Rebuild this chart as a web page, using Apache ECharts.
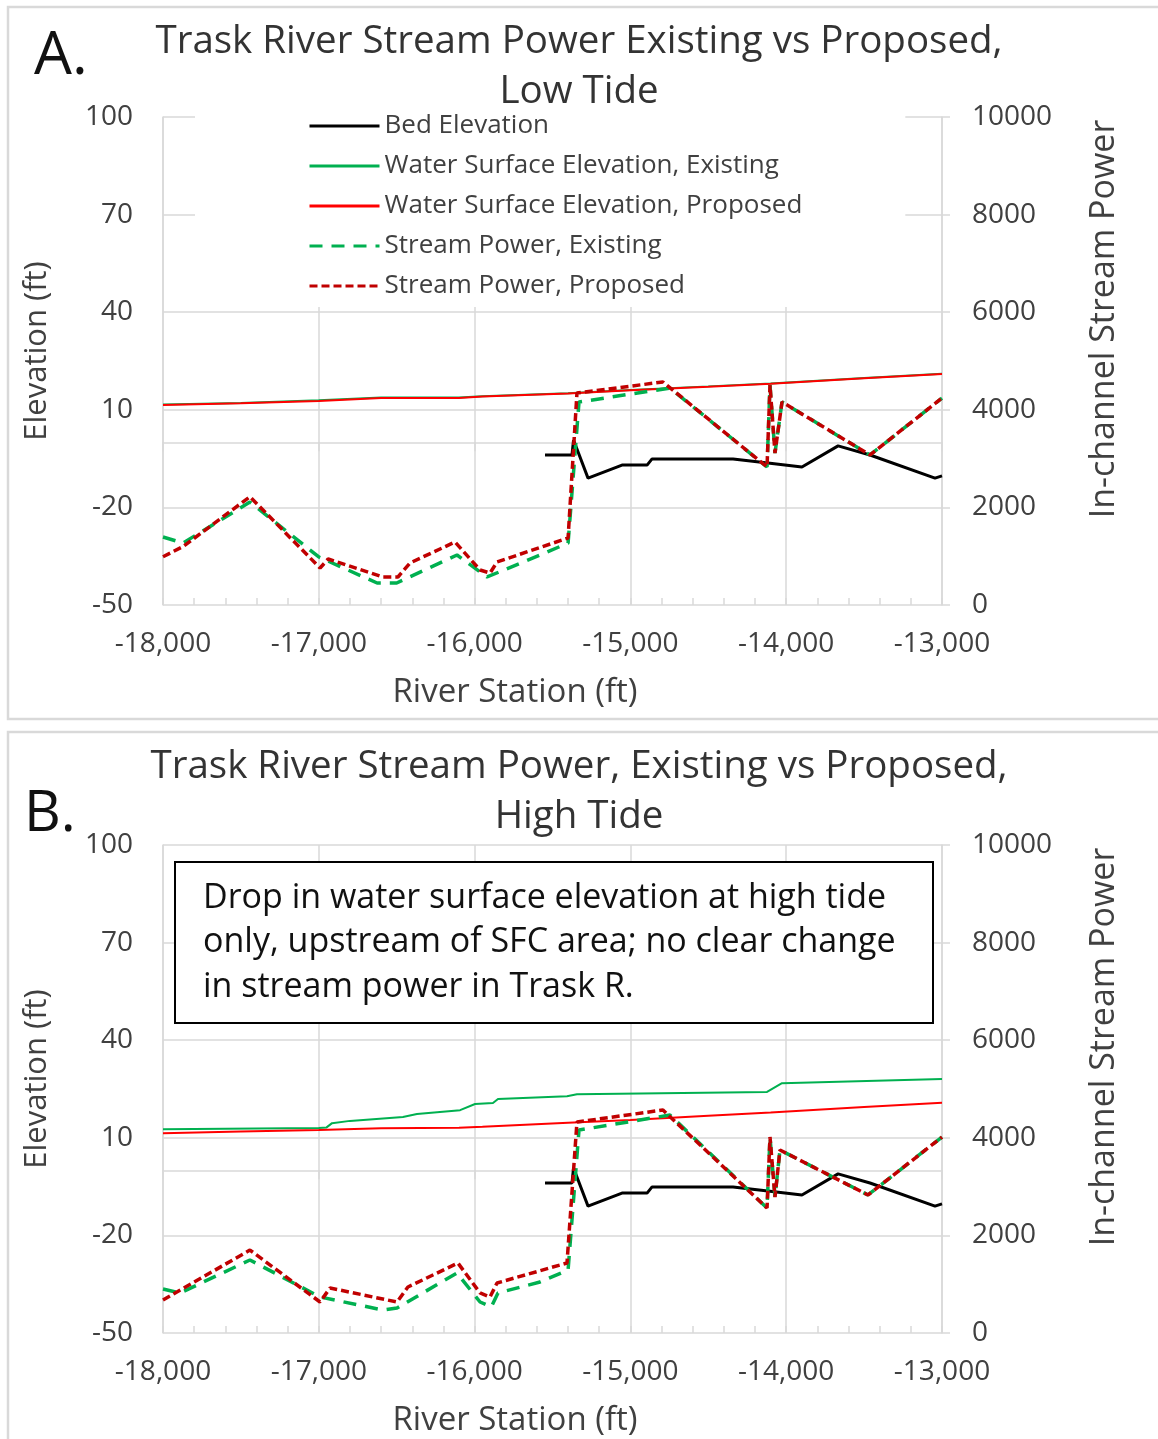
<!DOCTYPE html>
<html>
<head>
<meta charset="utf-8">
<script src="https://cdn.jsdelivr.net/npm/echarts@6/dist/echarts.min.js"></script>
<style>
  html, body { margin: 0; padding: 0; background: #fff; }
  #chart { width: 1158px; height: 1439px; }
</style>
</head>
<body>
<div id="chart"></div>
<script>
// ---- Axis ticks ----
const stationTicks = [-18000, -17000, -16000, -15000, -14000, -13000];
const elevationTicks = [-50, -20, 10, 40, 70, 100];
const powerTicks = [0, 2000, 4000, 6000, 8000, 10000];
const minorStationStep = 200;

// ---- Bed elevation (ft), same for both tide cases ----
const bedStation   = [-15548, -15375, -15365, -15272, -15054, -14893, -14861, -14341, -14104, -13899, -13667, -13462, -13045, -13000];
const bedElevation = [-3.9, -3.9, 0.7, -11.0, -7.0, -7.0, -5.1, -5.1, -6.4, -7.6, -1.1, -3.9, -11.0, -10.3];

// ---- Water surface elevation (ft) ----
const wseStation        = [-18000, -17500, -17000, -16600, -16100, -15950, -15400, -15000, -14500, -14100, -13500, -13000];
const wseLowExisting    = [11.6, 12.1, 12.9, 13.8, 13.8, 14.2, 15.1, 16.1, 17.2, 18.1, 19.8, 21.1];
const wseLowProposed    = [11.5, 12.0, 12.7, 13.6, 13.6, 14.1, 15.0, 16.0, 17.1, 18.0, 19.7, 21.0];
const wseHighProposed   = [11.4, 11.9, 12.4, 12.9, 13.1, 13.4, 14.6, 15.5, 16.8, 17.8, 19.5, 20.8];
const wseHighExStation  = [-18000, -17000, -16950, -16915, -16800, -16460, -16370, -16093, -15997, -15882, -15850, -15407, -15343, -14123, -14027, -13000];
const wseHighExisting   = [12.6, 13.0, 13.2, 14.5, 15.2, 16.4, 17.3, 18.5, 20.4, 20.7, 21.9, 22.8, 23.4, 24.1, 26.8, 28.1];

// ---- In-channel stream power, low tide ----
const spLowPropStation = [-18000, -17870, -17442, -16992, -16940, -16588, -16492, -16415, -16126, -15965, -15901, -15856, -15400, -15343, -14791, -14123, -14104, -14072, -14027, -13462, -13000];
const spLowProposed    = [990, 1200, 2219, 758, 942, 574, 574, 860, 1291, 717, 655, 881, 1373, 4344, 4570, 2828, 4508, 3114, 4160, 3074, 4241];
const spLowExStation   = [-18000, -17872, -17442, -17000, -16626, -16500, -16113, -15920, -15580, -15400, -15330, -14746, -14123, -14104, -14072, -14027, -13462, -13000];
const spLowExisting    = [1393, 1270, 2110, 984, 451, 451, 1024, 574, 1024, 1270, 4160, 4446, 2828, 4508, 3114, 4160, 3074, 4241];

// ---- In-channel stream power, high tide ----
const spHighPropStation = [-18000, -17442, -16992, -16928, -16498, -16428, -16107, -15965, -15901, -15856, -15407, -15343, -14791, -14123, -14104, -14072, -14040, -13475, -13000];
const spHighProposed    = [676, 1700, 635, 922, 635, 943, 1434, 820, 738, 1025, 1434, 4323, 4569, 2561, 4016, 2787, 3750, 2828, 4016];
const spHighExStation   = [-18000, -17890, -17442, -16992, -16588, -16498, -16113, -15965, -15893, -15850, -15580, -15400, -15330, -14746, -14123, -14104, -14072, -14040, -13475, -13000];
const spHighExisting    = [901, 820, 1496, 738, 471, 512, 1229, 635, 533, 820, 1045, 1291, 4159, 4467, 2561, 4016, 2787, 3750, 2828, 4016];

const seriesNames = [
  'Bed Elevation',
  'Water Surface Elevation, Existing',
  'Water Surface Elevation, Proposed',
  'Stream Power, Existing',
  'Stream Power, Proposed'
];
const noteText = 'Drop in water surface elevation at high tide\nonly, upstream of SFC area; no clear change\nin stream power in Trask R.';

// ---- Styling ----
const FONT = '"Open Sans", sans-serif';
const TEXT = '#404040';
const GRID = '#d9d9d9';
const GREEN = '#00B050';
const RED = '#FF0000';
const DARKRED = '#C00000';

const pairs = (xs, ys) => xs.map((x, i) => [x, ys[i]]);
const step = a => a[1] - a[0];

const panels = [
  {
    title: 'Trask River Stream Power Existing vs Proposed,\nLow Tide',
    top: 117, titleTop: 12,
    bed: [bedStation, bedElevation],
    wseEx: [wseStation, wseLowExisting],
    wsePr: [wseStation, wseLowProposed],
    spEx: [spLowExStation, spLowExisting],
    spPr: [spLowPropStation, spLowProposed]
  },
  {
    title: 'Trask River Stream Power, Existing vs Proposed,\nHigh Tide',
    top: 845, titleTop: 737,
    bed: [bedStation, bedElevation],
    wseEx: [wseHighExStation, wseHighExisting],
    wsePr: [wseStation, wseHighProposed],
    spEx: [spHighExStation, spHighExisting],
    spPr: [spHighPropStation, spHighProposed]
  }
];

const grid = [], xAxis = [], yAxis = [], series = [], title = [];

panels.forEach((p, i) => {
  grid.push({ left: 163, width: 779, top: p.top, height: 488, containLabel: false });
  title.push({
    text: p.title, left: 'center', top: p.titleTop,
    textStyle: { fontFamily: FONT, fontSize: 38.5, fontWeight: 'normal', color: '#333', lineHeight: 50 }
  });
  // main station axis
  xAxis.push({
    type: 'value', gridIndex: i, position: 'bottom',
    min: stationTicks[0], max: stationTicks[stationTicks.length - 1], interval: step(stationTicks),
    name: 'River Station (ft)', nameLocation: 'middle', nameGap: 71,
    nameTextStyle: { fontFamily: FONT, fontSize: 33, color: TEXT, padding: [0, 75, 0, 0] },
    axisLine: { show: true, lineStyle: { color: GRID, width: 1.5 } },
    axisTick: { show: true, inside: false, length: 9, lineStyle: { color: GRID, width: 1.5 } },
    axisLabel: { fontFamily: FONT, fontSize: 28, color: TEXT, margin: 25,
      formatter: v => v.toLocaleString('en-US') },
    splitLine: { show: true, lineStyle: { color: GRID, width: 1.5 } }
  });
  // minor ticks pointing into the plot
  xAxis.push({
    type: 'value', gridIndex: i, position: 'bottom', offset: 0,
    min: stationTicks[0], max: stationTicks[stationTicks.length - 1], interval: minorStationStep,
    axisLine: { show: false },
    axisTick: { show: true, inside: true, length: 7, lineStyle: { color: GRID, width: 1.5 } },
    axisLabel: { show: false },
    splitLine: { show: false }
  });
  // elevation (left)
  yAxis.push({
    type: 'value', gridIndex: i, position: 'left',
    min: elevationTicks[0], max: elevationTicks[elevationTicks.length - 1], interval: step(elevationTicks),
    name: 'Elevation (ft)', nameLocation: 'middle', nameRotate: 90, nameGap: 110,
    nameTextStyle: { fontFamily: FONT, fontSize: 31, color: TEXT, padding: [0, 0, 0, 20] },
    axisLine: { show: true, lineStyle: { color: GRID, width: 1.5 } },
    axisTick: { show: false },
    axisLabel: { fontFamily: FONT, fontSize: 28, color: TEXT, margin: 30 },
    splitLine: { show: true, lineStyle: { color: GRID, width: 1.5 } }
  });
  // stream power (right)
  yAxis.push({
    type: 'value', gridIndex: i, position: 'right',
    min: powerTicks[0], max: powerTicks[powerTicks.length - 1], interval: step(powerTicks),
    name: 'In-channel Stream Power', nameLocation: 'middle', nameRotate: 90, nameGap: 145,
    nameTextStyle: { fontFamily: FONT, fontSize: 34, color: TEXT, padding: [0, 0, 0, 84] },
    axisLine: { show: true, lineStyle: { color: GRID, width: 1.5 } },
    axisTick: { show: true, inside: false, length: 8, lineStyle: { color: GRID, width: 1.5 } },
    axisLabel: { fontFamily: FONT, fontSize: 28, color: TEXT, margin: 30, formatter: v => String(v) },
    splitLine: { show: false }
  });

  const xi = 2 * i, yl = 2 * i, yr = 2 * i + 1;
  const base = { type: 'line', xAxisIndex: xi, symbol: 'none', showSymbol: false, animation: false };
  series.push(
    Object.assign({}, base, { name: seriesNames[0], yAxisIndex: yl, data: pairs(...p.bed),
      lineStyle: { color: '#000', width: 3 }, itemStyle: { color: '#000' }, z: 3 }),
    Object.assign({}, base, { name: seriesNames[1], yAxisIndex: yl, data: pairs(...p.wseEx),
      lineStyle: { color: GREEN, width: 2 }, itemStyle: { color: GREEN }, z: 3 }),
    Object.assign({}, base, { name: seriesNames[2], yAxisIndex: yl, data: pairs(...p.wsePr),
      lineStyle: { color: RED, width: 2 }, itemStyle: { color: RED }, z: 3 }),
    Object.assign({}, base, { name: seriesNames[3], yAxisIndex: yr, data: pairs(...p.spEx),
      lineStyle: { color: GREEN, width: 3.5, type: [13, 9] }, itemStyle: { color: GREEN }, z: 3 }),
    Object.assign({}, base, { name: seriesNames[4], yAxisIndex: yr, data: pairs(...p.spPr),
      lineStyle: { color: DARKRED, width: 3.5, type: [8, 4] }, itemStyle: { color: DARKRED }, z: 3 })
  );
});

const option = {
  backgroundColor: '#fff',
  animation: false,
  title,
  grid, xAxis, yAxis, series,
  legend: {
    show: true, data: seriesNames, orient: 'vertical',
    left: 195, top: 102, padding: [11, 103, 8, 113],
    backgroundColor: '#fff',
    itemWidth: 70, itemHeight: 20, itemGap: 14,
    itemStyle: { opacity: 0 },
    lineStyle: { width: 3 },
    textStyle: { fontFamily: FONT, fontSize: 26, color: TEXT },
    selectedMode: false
  },
  graphic: [
    { type: 'rect', shape: { x: 8, y: 7, width: 1170, height: 712 },
      style: { fill: 'none', stroke: GRID, lineWidth: 2.5 }, silent: true, z: 0 },
    { type: 'rect', shape: { x: 8, y: 732, width: 1170, height: 730 },
      style: { fill: 'none', stroke: GRID, lineWidth: 2.5 }, silent: true, z: 0 },
    { type: 'text', x: 34, y: 57, style: { text: 'A.', font: '60px ' + FONT, fill: '#111', verticalAlign: 'middle' }, z: 20 },
    { type: 'text', x: 24, y: 815, style: { text: 'B.', font: '57px ' + FONT, fill: '#111', verticalAlign: 'middle' }, z: 20 },
    { type: 'rect', shape: { x: 175, y: 862, width: 758, height: 161 },
      style: { fill: '#fff', stroke: '#000', lineWidth: 2 }, z: 20 },
    { type: 'text', x: 203, y: 876,
      style: { text: noteText, font: '34px ' + FONT, fill: '#111', lineHeight: 44.5 }, z: 21 }
  ]
};

const chart = echarts.init(document.getElementById('chart'), null, { renderer: 'canvas' });
chart.setOption(option);
</script>
</body>
</html>
